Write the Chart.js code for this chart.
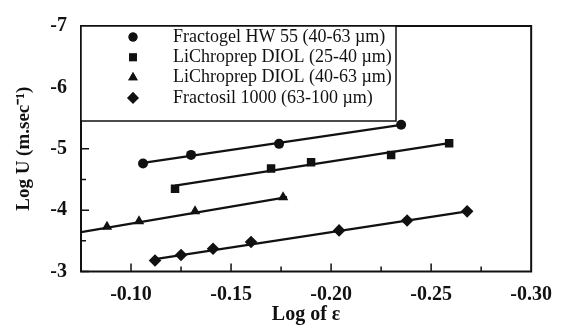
<!DOCTYPE html>
<html>
<head>
<meta charset="utf-8">
<script src="https://cdn.jsdelivr.net/npm/chart.js"></script>
<style>
  body { margin: 0; background: #fff; }
  #wrap { width: 563px; height: 327px; }
</style>
</head>
<body>
<div id="wrap"><canvas id="chart" width="563" height="327"></canvas></div>
<script>
// tick labels
const xTickValues = [-0.10, -0.15, -0.20, -0.25, -0.30];
const xMinorTicks = [-0.125, -0.175, -0.225, -0.275];
const yTickValues = [-7, -6, -5, -4, -3];
const yMinorTicks = [-6.5, -5.5, -4.5, -3.5];

// series (log of epsilon, log U)
const labels = [
  "Fractogel HW 55 (40-63 \u00b5m)",
  "LiChroprep DIOL (25-40 \u00b5m)",
  "LiChroprep DIOL (40-63 \u00b5m)",
  "Fractosil 1000 (63-100 \u00b5m)"
];
const fractogelX = [-0.106, -0.130, -0.174, -0.235];
const fractogelY = [-4.76, -4.90, -5.08, -5.39];
const diol25X = [-0.122, -0.170, -0.190, -0.230, -0.259];
const diol25Y = [-4.35, -4.68, -4.78, -4.90, -5.09];
const diol40X = [-0.088, -0.104, -0.132, -0.176];
const diol40Y = [-3.73, -3.82, -3.98, -4.21];
const fractosilX = [-0.112, -0.125, -0.141, -0.160, -0.204, -0.238, -0.268];
const fractosilY = [-3.18, -3.27, -3.37, -3.48, -3.67, -3.83, -3.98];

const fitFractogel = [[-0.106, -4.77], [-0.235, -5.39]];
const fitDiol25 = [[-0.122, -4.40], [-0.259, -5.09]];
const fitDiol40 = [[-0.075, -3.64], [-0.178, -4.21]];
const fitFractosil = [[-0.112, -3.20], [-0.268, -3.98]];

const markers = ["circle", "rect", "triangle", "rectRot"];
const markerSizes = [5, 6, 6, 6.3];
const ink = "#111";

function pts(xs, ys) {
  return xs.map((x, i) => ({ x: x, y: ys[i] }));
}
function fitPts(f) {
  return f.map((p) => ({ x: p[0], y: p[1] }));
}

const pointSets = [
  pts(fractogelX, fractogelY),
  pts(diol25X, diol25Y),
  pts(diol40X, diol40Y),
  pts(fractosilX, fractosilY)
];
const fitSets = [fitFractogel, fitDiol25, fitDiol40, fitFractosil];

const datasets = [];
fitSets.forEach((f) => {
  datasets.push({
    data: fitPts(f),
    showLine: true,
    borderColor: ink,
    borderWidth: 2.3,
    pointRadius: 0
  });
});
pointSets.forEach((p, i) => {
  datasets.push({
    label: labels[i],
    data: p,
    showLine: false,
    pointStyle: markers[i],
    pointRadius: markerSizes[i],
    backgroundColor: ink,
    borderColor: ink,
    borderWidth: 0
  });
});

// frame, inward ticks and boxed legend
const framePlugin = {
  id: "frame",
  afterDraw(chart) {
    const ctx = chart.ctx;
    const a = chart.chartArea;
    const xs = chart.scales.x;
    const ys = chart.scales.y;
    ctx.save();
    ctx.strokeStyle = ink;
    ctx.lineWidth = 2;
    ctx.strokeRect(a.left, a.top, a.right - a.left, a.bottom - a.top);

    ctx.lineWidth = 1.5;
    ctx.beginPath();
    xTickValues.forEach((v) => {
      const px = xs.getPixelForValue(v);
      if (px > a.left + 2 && px < a.right - 2) {
        ctx.moveTo(px, a.bottom);
        ctx.lineTo(px, a.bottom - 8);
      }
    });
    xMinorTicks.forEach((v) => {
      const px = xs.getPixelForValue(v);
      ctx.moveTo(px, a.bottom);
      ctx.lineTo(px, a.bottom - 5);
    });
    yTickValues.forEach((v) => {
      const py = ys.getPixelForValue(v);
      ctx.moveTo(a.left, py);
      ctx.lineTo(a.left + 8, py);
    });
    yMinorTicks.forEach((v) => {
      const py = ys.getPixelForValue(v);
      ctx.moveTo(a.left, py);
      ctx.lineTo(a.left + 5, py);
    });
    ctx.stroke();

    // legend
    const boxW = 315;
    const boxH = 95;
    ctx.fillStyle = "#fff";
    ctx.fillRect(a.left, a.top, boxW, boxH);
    ctx.lineWidth = 1.5;
    ctx.strokeRect(a.left, a.top, boxW, boxH);

    ctx.font = "18px 'Liberation Serif', 'Times New Roman', serif";
    ctx.textBaseline = "middle";
    ctx.textAlign = "left";
    labels.forEach((lab, i) => {
      const y = a.top + 11 + i * 20.3;
      const mx = a.left + 52;
      ctx.fillStyle = ink;
      ctx.strokeStyle = ink;
      Chart.helpers.drawPoint(ctx, {
        pointStyle: markers[i],
        radius: markerSizes[i] - 0.5,
        rotation: 0,
        borderWidth: 0
      }, mx, y);
      ctx.fill();
      ctx.fillText(lab, a.left + 92, y);
    });
    ctx.restore();
  }
};

const boldFont = { family: "'Liberation Serif', 'Times New Roman', serif", size: 20, weight: "bold" };

new Chart(document.getElementById("chart"), {
  type: "scatter",
  data: { datasets: datasets },
  options: {
    responsive: false,
    animation: false,
    layout: { padding: { left: 0, top: 17.5, right: 25, bottom: 0 } },
    plugins: { legend: { display: false }, tooltip: { enabled: false } },
    scales: {
      x: {
        type: "linear",
        min: -0.30,
        max: -0.075,
        reverse: true,
        grid: { display: false, drawTicks: false },
        border: { display: false },
        afterBuildTicks: (s) => { s.ticks = xTickValues.map((v) => ({ value: v })); },
        afterFit: (s) => { s.height = 55.5; },
        ticks: {
          color: ink,
          font: boldFont,
          padding: 11,
          maxRotation: 0,
          callback: (v) => Number(v).toFixed(2)
        },
        title: {
          display: true,
          text: "Log of \u03b5",
          color: ink,
          font: { family: boldFont.family, size: 20, weight: "bold" },
          padding: { top: 0, bottom: 0 }
        }
      },
      y: {
        type: "linear",
        min: -7,
        max: -3,
        reverse: true,
        grid: { display: false, drawTicks: false },
        border: { display: false },
        afterBuildTicks: (s) => { s.ticks = yTickValues.map((v) => ({ value: v })); },
        afterFit: (s) => { s.width = 81; },
        ticks: {
          color: ink,
          font: boldFont,
          padding: 14,
          callback: (v) => String(v)
        },
        title: {
          display: true,
          text: "Log U (m.sec\u207b\u00b9)",
          color: ink,
          font: { family: boldFont.family, size: 19, weight: "bold" },
          padding: { top: 13, bottom: 0 }
        }
      }
    }
  },
  plugins: [framePlugin]
});
</script>
</body>
</html>
